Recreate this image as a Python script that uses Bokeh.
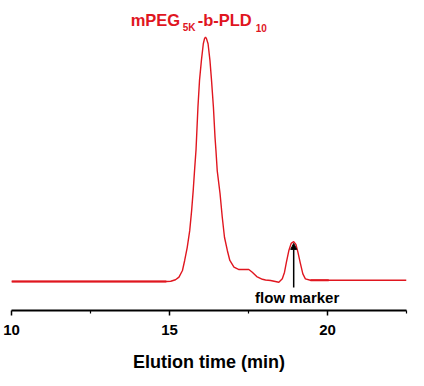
from bokeh.plotting import figure
from bokeh.models import FixedTicker, Range1d, Label, Arrow, NormalHead
from bokeh.embed import file_html
from bokeh.resources import INLINE

# Elution time (min) and detector signal (normalised, main peak = 100)
time = [10.0, 14.9, 15.04, 15.19, 15.30, 15.41, 15.48, 15.56, 15.64, 15.70, 15.75,
        15.80, 15.84, 15.90, 15.95, 16.01, 16.07, 16.11, 16.14, 16.17, 16.22, 16.28,
        16.33, 16.39, 16.44, 16.47, 16.51, 16.60, 16.67, 16.74, 16.83, 16.91, 17.04,
        17.20, 17.51, 17.62, 17.76, 17.94, 18.04, 18.20, 18.46, 18.57, 18.64, 18.70,
        18.78, 18.85, 18.93, 19.00, 19.06, 19.14, 19.22, 19.30, 19.46, 20.04, 22.5]
signal = [0.0, 0.0, 0.1, 0.7, 1.8, 4.5, 8.6, 13.9, 20.8, 29.0, 37.2,
          46.8, 54.0, 71.3, 82.3, 90.5, 97.3, 99.5, 100.0, 99.4, 97.3, 90.5,
          82.3, 71.3, 59.1, 53.6, 45.4, 35.9, 26.3, 18.1, 12.7, 8.6, 5.9,
          4.9, 4.9, 3.8, 2.0, 0.9, 0.6, 0.4, -0.3, 1.1, 3.8, 7.9,
          12.8, 15.6, 16.3, 15.2, 12.2, 7.5, 3.1, 1.1, 0.5, 0.5, 0.5]

flow_marker_time = 18.93
flow_marker_signal = 15.6

x_ticks = [10, 15, 20]
x_minor_ticks = [12.5, 17.5, 22.5]

RED = "#e0161f"
FONT = "Liberation Sans"

p = figure(width=424, height=386, output_backend="svg", toolbar_location=None,
           x_range=Range1d(10, 22.5), y_range=Range1d(-11.87, 115.0),
           y_axis_location=None, min_border_left=11, min_border_right=18,
           min_border_top=0, min_border_bottom=76)
p.outline_line_color = None
p.xgrid.visible = False
p.ygrid.visible = False
p.background_fill_color = "white"
p.border_fill_color = "white"

p.line(time, signal, line_color=RED, line_width=1.4)
# slightly heavier baseline segments as in the original trace
p.line(time[:2], signal[:2], line_color=RED, line_width=2.0)
p.line(time[-3:-1], signal[-3:-1], line_color=RED, line_width=2.0)

ax = p.xaxis[0]
ax.ticker = FixedTicker(ticks=x_ticks, minor_ticks=x_minor_ticks)
ax.axis_line_width = 2
ax.axis_line_color = "black"
ax.major_tick_line_width = 1.5
ax.major_tick_out = 5
ax.major_tick_in = 0
ax.minor_tick_line_width = 1.2
ax.minor_tick_out = 3
ax.minor_tick_in = 0
ax.major_label_text_font = FONT
ax.major_label_text_font_style = "bold"
ax.major_label_text_font_size = "15px"
ax.major_label_text_color = "black"
ax.major_label_standoff = 9
ax.axis_label = "Elution time (min)"
ax.axis_label_text_font = FONT
ax.axis_label_text_font_style = "bold"
ax.axis_label_text_font_size = "18px"
ax.axis_label_text_color = "black"
ax.axis_label_standoff = 14

# arrow pointing at the flow marker peak
p.add_layout(Arrow(end=NormalHead(size=6, fill_color="black", line_color="black"),
                   x_start=flow_marker_time, y_start=-2.5,
                   x_end=flow_marker_time, y_end=flow_marker_signal,
                   line_color="black", line_width=1.5))
p.add_layout(Label(x=19.04, y=-6.6, text="flow marker", text_align="center",
                   text_baseline="alphabetic", text_font=FONT, text_font_style="bold",
                   text_font_size="15px", text_color="black"))

# title with subscripts
tx, ty = 13.77, 107.1
parts = [("mPEG", 0, 0, "16.5px"), ("5K", 52, -8, "10px"), ("-b-PLD", 67, 0, "16.5px"), ("10", 125, -8, "10px")]
for txt, dx, dy, fs in parts:
    p.add_layout(Label(x=tx, y=ty, x_offset=dx, y_offset=dy, text=txt, text_align="left",
                       text_baseline="alphabetic", text_font=FONT, text_font_style="bold",
                       text_font_size=fs, text_color=RED))

open("out.html", "w").write(file_html(p, INLINE))
